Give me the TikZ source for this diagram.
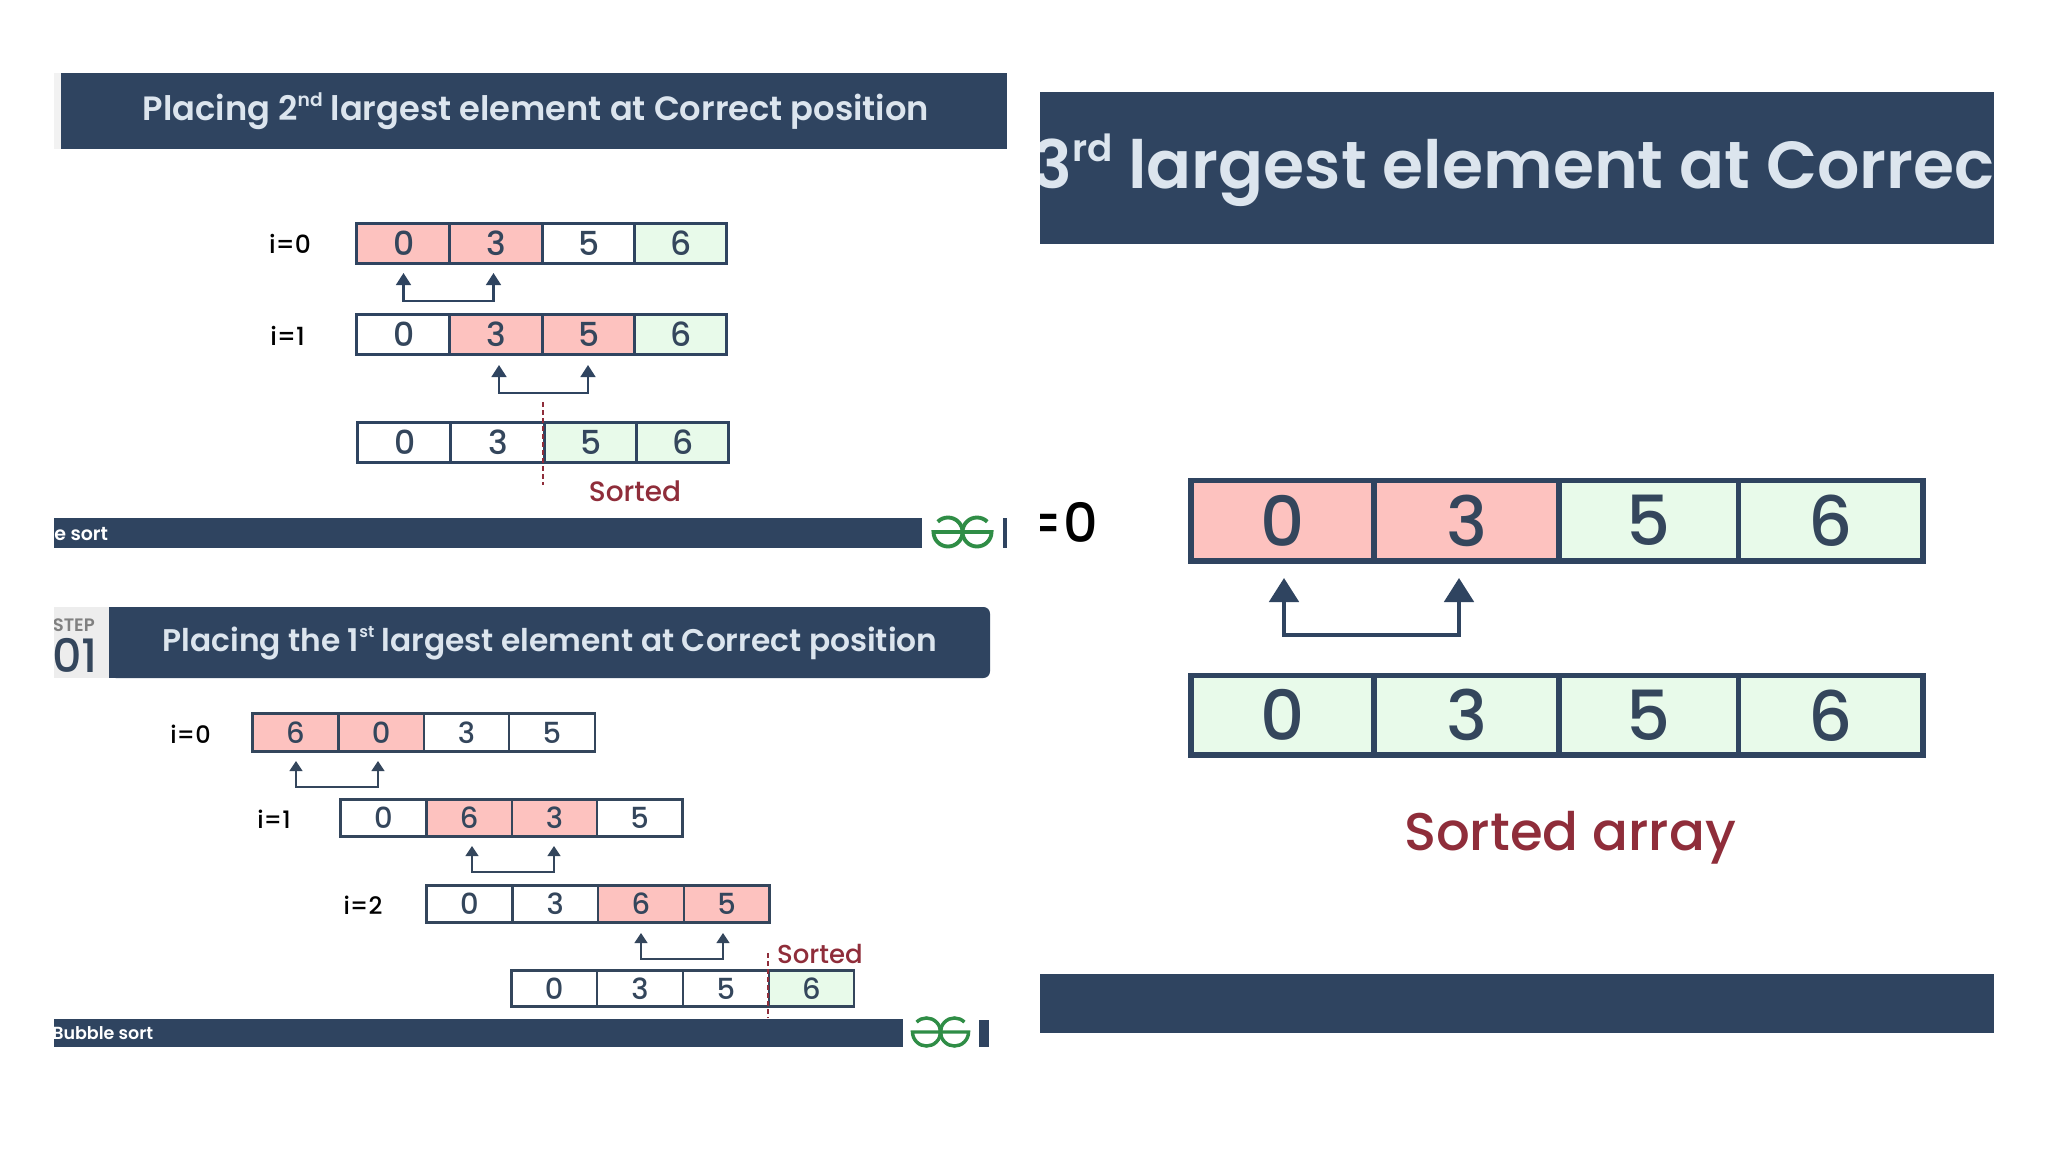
\documentclass[tikz,border=0pt]{standalone}
\usepackage{fontspec}
\setmainfont{Poppins}[UprightFont=* Medium,BoldFont=* SemiBold]
\usetikzlibrary{arrows.meta,calc}
\definecolor{navy}{HTML}{2F4460}
\definecolor{hdrtxt}{HTML}{DCE5EE}
\definecolor{cellink}{HTML}{34465C}
\definecolor{pinkc}{HTML}{FDC2BF}
\definecolor{greenc}{HTML}{E8FAEA}
\definecolor{redt}{HTML}{8F2D3A}
\definecolor{gfg}{HTML}{2F8D46}
\newcommand\fpx[1]{\fontsize{\fpeval{#1*0.75}}{\fpeval{#1*0.9}}\selectfont}
\newcommand\sups[3]{\raisebox{#2}{\fontsize{#1}{#1}\selectfont #3}}
\tikzset{
  x=0.75pt,y=-0.75pt,
  bar/.style={fill=navy,draw=none},
  lbl/.style={inner sep=0,text=black},
  sorted/.style={inner sep=0,text=redt},
  htitle/.style={inner sep=0,text=hdrtxt},
  ftxt/.style={inner sep=0,text=white,anchor=west},
  cut/.style={draw=redt,dashed,dash pattern=on 4pt off 2pt,line width=1.2pt},
}
\def\cellk{0pt}
\newcommand\setrow[7]{\def\xa{#1}\def\xb{#2}\def\xc{#3}\def\xd{#4}\def\xe{#5}\def\ya{#6}\def\yb{#7}}
\newcommand\onecell[5]{%
  \pgfmathsetmacro\mcx{(#2+#3)/2}\pgfmathsetmacro\mcy{(\ya+\yb)/2}%
  \pgfmathsetmacro\mw{(#3-#2)*0.75}\pgfmathsetmacro\mh{(\yb-\ya)*0.75}%
  \node[cellbox,minimum width=\mw pt,minimum height=\mh pt,fill=#4] (#1) at (\mcx,\mcy) {\hspace*{\cellk}#5};}
\newcommand\cells[9]{%
  \onecell{#1-1}{\xa}{\xb}{#3}{#2}\onecell{#1-2}{\xb}{\xc}{#5}{#4}%
  \onecell{#1-3}{\xc}{\xd}{#7}{#6}\onecell{#1-4}{\xd}{\xe}{#9}{#8}}
\newcommand\swapU[5]{%
  \coordinate (#1-a) at (#2,#4);\coordinate (#1-b) at (#3,#4);\coordinate (#1-m) at (#2,#5);
  \draw[swaparrow] (#1-a) -- (#1-a|-#1-m) -- (#1-b|-#1-m) -- (#1-b);}
\newcommand\gfglogo[4]{% centre x, centre y, radius, line width
  \pgfmathsetmacro\lcl{#1-#3}\pgfmathsetmacro\lcr{#1+#3}%
  \draw[draw=gfg,line width=#4] ($(\lcl,#2)+(-135:#3)$) arc[start angle=-135,end angle=180,radius=#3] -- ++(#3*2,0);
  \draw[draw=gfg,line width=#4] ($(\lcr,#2)+(-45:#3)$) arc[start angle=-45,end angle=-360,radius=#3] -- ++(-#3*2,0);}
\begin{document}
\begin{tikzpicture}
\useasboundingbox (0,0) rectangle (2048,1152);
\fill[white] (0,0) rectangle (2048,1152);
%% ===== panel: 2nd largest =====
\fill[gray!10] (54,73) rectangle (61,149);
\fill[bar] (61,73) rectangle (1007,149);
\node[htitle,font=\fpx{33.7}\bfseries] (t2) at (536,111) {Placing 2\sups{14pt}{0.42em}{nd} largest element at Correct position};
\begin{scope}[cellbox/.style={draw=navy,line width=2.25pt,inner sep=0,text=cellink,font=\fpx{33}},
  swaparrow/.style={draw=navy,line width=1.9pt,{Triangle[length=9pt,width=11pt]}-{Triangle[length=9pt,width=11pt]}}]
\def\cellk{1.5pt}
\setrow{356.5}{449}{542}{634}{726}{223.5}{263.5}
\cells{ra}{0}{pinkc}{3}{pinkc}{5}{white}{6}{greenc}
\swapU{sa}{403.5}{493.5}{273}{301}
\setrow{356.5}{449}{542}{634}{726}{314.5}{354.5}
\cells{rb}{0}{white}{3}{pinkc}{5}{pinkc}{6}{greenc}
\swapU{sb}{499}{588}{365}{393}
\setrow{357.5}{450}{544}{636}{728}{422.5}{462.5}
\cells{rc}{0}{white}{3}{white}{5}{greenc}{6}{greenc}
\end{scope}
\def\cellk{0pt}
\coordinate (ca) at (543,402);\coordinate (cb) at (543,485);
\draw[cut] (ca) -- (cb);
\node[lbl,font=\fpx{25}] (la) at (290,244) {i=0};
\node[lbl,font=\fpx{25},anchor=west] (lb) at (270,336) {i=1};
\node[sorted,font=\fpx{28}] (sa-t) at (635,491) {Sorted};
\fill[bar] (54,518) rectangle (922,548);
\node[ftxt,font=\fpx{19}\bfseries] (f2) at (54,534) {e sort};
\gfglogo{962.5}{532}{14.5}{2.9pt}
\fill[bar] (1003,518) rectangle (1007,548);
%% ===== panel: 1st largest =====
\fill[gray!14] (54,607) rectangle (109,678);
\begin{scope}
\clip (54,600) rectangle (109,685);
\node[inner sep=0,text=gray,font=\fpx{18}\bfseries,anchor=east] (st) at (95,625) {STEP};
\node[inner sep=0,text=cellink,font=\fpx{46},anchor=east] (sn) at (98,655) {01};
\end{scope}
\fill[bar,rounded corners=5pt] (109,607) rectangle (990,678);
\fill[bar] (109,607) rectangle (130,678);
\node[htitle,font=\fpx{31.3}\bfseries] (t1) at (550,643) {Placing the 1\sups{12pt}{0.42em}{st} largest element at Correct position};
\begin{scope}[cellbox/.style={draw=cellink,line width=1.9pt,inner sep=0,text=cellink,font=\fpx{29}},
  swaparrow/.style={draw=cellink,line width=1.6pt,{Triangle[length=7.5pt,width=9.5pt]}-{Triangle[length=7.5pt,width=9.5pt]}}]
\setrow{252.5}{338.5}{424}{509}{595}{713.3}{751.7}
\cells{qa}{6}{pinkc}{0}{pinkc}{3}{white}{5}{white}
\swapU{ua}{296}{378}{761}{787}
\setrow{340.5}{426.5}{512}{597}{682.5}{799.3}{836.7}
\cells{qb}{0}{white}{6}{pinkc}{3}{pinkc}{5}{white}
\swapU{ub}{472}{554}{846}{872}
\setrow{426.5}{512.5}{598}{684}{769.5}{885.3}{922.7}
\cells{qc}{0}{white}{3}{white}{6}{pinkc}{5}{pinkc}
\swapU{uc}{641}{723}{933}{959}
\setrow{511.5}{597}{683}{769}{854}{970.3}{1006.7}
\cells{qd}{0}{white}{3}{white}{5}{white}{6}{greenc}
\end{scope}
\coordinate (da) at (768,953);\coordinate (db) at (768,1018);
\draw[cut] (da) -- (db);
\node[lbl,font=\fpx{24}] (ka) at (190.5,734) {i=0};
\node[lbl,font=\fpx{24}] (kb) at (274,819) {i=1};
\node[lbl,font=\fpx{24}] (kc) at (363,905) {i=2};
\node[sorted,font=\fpx{26}] (sq-t) at (820,954) {Sorted};
\fill[bar] (54,1019) rectangle (903,1046.5);
\begin{scope}
\clip (54,1015) rectangle (200,1050);
\node[ftxt,font=\fpx{17.5}\bfseries] (f1) at (52,1033) {Bubble sort};
\end{scope}
\gfglogo{940.5}{1032}{14}{2.6pt}
\fill[bar] (979,1020) rectangle (989,1046.5);
%% ===== panel: 3rd largest =====
\fill[bar] (1040,92) rectangle (1994,244);
\begin{scope}
\clip (1040,92) rectangle (1994,244);
\node[inner sep=0,text=hdrtxt,font=\fpx{66.5}\bfseries,anchor=base west] (t3) at (1032,189) {3\sups{28pt}{0.42em}{rd} largest element at Correct};
\end{scope}
\begin{scope}[cellbox/.style={draw=navy,line width=4.1pt,inner sep=0,text=cellink,font=\fpx{69}},
  swaparrow/.style={draw=navy,line width=3pt,{Triangle[length=18pt,width=22pt]}-{Triangle[length=18pt,width=22pt]}}]
\setrow{1191}{1374}{1559}{1738.5}{1923}{480.5}{561}
\cells{pa}{0}{pinkc}{3}{pinkc}{5}{greenc}{6}{greenc}
\swapU{va}{1284}{1459}{578}{635}
\setrow{1191}{1374}{1559}{1738.5}{1923}{675.5}{755}
\cells{pb}{0}{greenc}{3}{greenc}{5}{greenc}{6}{greenc}
\end{scope}
\begin{scope}
\clip (1040,480) rectangle (1110,570);
\node[lbl,font=\fpx{54},anchor=east] (e0) at (1098,522) {=0};
\end{scope}
\node[sorted,font=\fpx{53}] (sp-t) at (1570,838) {Sorted array};
\fill[bar] (1040,974) rectangle (1994,1033);
\end{tikzpicture}
\end{document}
